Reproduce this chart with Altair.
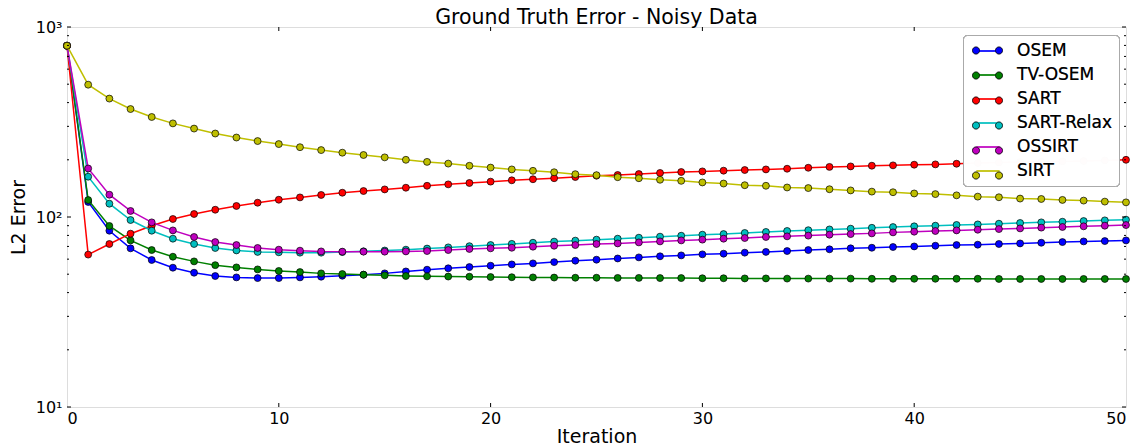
import altair as alt
import pandas as pd

# ---------------- data ----------------
iterations = list(range(51))

series_names = ["OSEM", "TV-OSEM", "SART", "SART-Relax", "OSSIRT", "SIRT"]
series_colors = ["#0000ff", "#008000", "#ff0000", "#00bfbf", "#bf00bf", "#bfbf00"]

osem = [797, 120, 84.7, 68.4, 59.4, 54.1, 50.9, 48.9, 48.1, 47.7,
        47.7, 48.1, 48.5, 49.1, 49.7, 50.5, 51.7, 52.8, 53.7, 54.5,
        55.4, 56.3, 57.0, 57.9, 58.9, 59.6, 60.5, 61.3, 62.1, 62.8,
        63.6, 64.1, 64.9, 65.5, 66.2, 67.0, 67.6, 68.4, 68.9, 69.5,
        70.0, 70.6, 71.2, 71.5, 72.1, 72.6, 73.2, 73.8, 74.4, 74.7, 75.3]

tv_osem = [797, 122.8, 89.7, 75.3, 67.0, 61.8, 58.4, 55.8, 54.3, 53.0,
           52.0, 51.3, 50.5, 50.1, 49.7, 49.3, 48.9, 48.7, 48.6, 48.5,
           48.3, 48.2, 48.1, 48.0, 47.9, 47.9, 47.8, 47.8, 47.7, 47.7,
           47.6, 47.6, 47.5, 47.5, 47.4, 47.4, 47.4, 47.4, 47.3, 47.3,
           47.3, 47.3, 47.3, 47.3, 47.2, 47.2, 47.2, 47.2, 47.2, 47.2, 47.2]

sart = [797, 63.4, 72.1, 81.7, 90.0, 97.6, 103.7, 109.2, 114.3, 118.9,
        123.3, 126.8, 130.6, 134.2, 137.0, 139.7, 142.6, 146.0, 148.5, 151.0,
        153.5, 156.0, 158.0, 160.0, 162.3, 165.0, 166.4, 168.3, 170.5, 172.5,
        173.8, 175.3, 176.7, 178.0, 179.5, 181.6, 183.5, 184.6, 186.2, 187.0,
        188.5, 189.2, 190.7, 192.3, 193.8, 194.6, 195.4, 196.2, 197.0, 198.5, 200.0]

sart_relax = [797, 163, 117.5, 96.4, 84.7, 76.9, 72.1, 68.7, 66.7, 65.5,
              65.2, 64.9, 64.9, 65.4, 66.0, 66.6, 67.3, 68.2, 69.2, 70.2,
              71.2, 72.2, 73.2, 74.2, 75.1, 76.0, 76.9, 77.8, 78.8, 79.7,
              80.7, 81.3, 82.4, 83.4, 84.4, 85.2, 86.0, 86.8, 87.7, 88.5,
              89.3, 90.0, 90.8, 91.4, 92.2, 93.0, 93.7, 94.4, 95.2, 96.0, 96.8]

ossirt = [797, 180, 131, 107.6, 93.7, 85.0, 78.5, 73.8, 71.2, 68.7,
          67.3, 66.5, 65.9, 65.7, 65.7, 65.7, 65.9, 66.2, 67.0, 67.9,
          68.4, 68.9, 69.8, 70.6, 71.2, 72.1, 72.6, 73.5, 74.4, 75.3,
          76.0, 76.9, 77.5, 78.5, 79.1, 79.8, 80.7, 81.3, 82.0, 83.0,
          83.7, 84.4, 85.0, 85.7, 86.4, 87.1, 87.9, 88.6, 89.3, 90.0, 90.7]

sirt = [797, 497, 420, 370, 336, 311, 292, 275, 262, 251,
        242, 233, 225, 218, 212, 206, 200, 195, 191, 186,
        182, 178, 175, 172, 168, 166, 162, 160, 157, 155,
        152, 150, 147, 146, 143, 142, 140, 138, 136, 135,
        133, 132, 130, 128, 127, 125, 124.4, 123, 122, 120.5, 119.4]

all_values = [osem, tv_osem, sart, sart_relax, ossirt, sirt]

x_tick_values = [0, 10, 20, 30, 40, 50]
y_major_ticks = [10, 100, 1000]
y_minor_ticks = [20, 30, 40, 50, 60, 70, 80, 90, 200, 300, 400, 500, 600, 700, 800, 900]
x_inner_ticks = [10, 20, 30, 40]

# ---------------- build table ----------------
rows = []
for name, vals in zip(series_names, all_values):
    for it, v in zip(iterations, vals):
        rows.append({"Iteration": it, "L2": v, "series": name})
df = pd.DataFrame(rows)

W, H = 1059, 380
FONT = "DejaVu Sans"

xscale = alt.Scale(domain=[0, 50], nice=False, zero=False)
yscale = alt.Scale(type="log", domain=[10, 1000], nice=False)
stroke_scale = alt.Scale(domain=series_names, range=series_colors)
fill_scale = alt.Scale(domain=series_names, range=series_colors)

# legend glyph: line with a marker at each end (path units scaled by sqrt(size)/2 = 8 px)
line_path = "M-1.4375,0L1.4375,0"
circ_path = ("M-1.875,0A0.4375,0.4375 0 1,0 -1,0A0.4375,0.4375 0 1,0 -1.875,0Z"
             "M1,0A0.4375,0.4375 0 1,0 1.875,0A0.4375,0.4375 0 1,0 1,0Z")

LX, LY = 896, 8
common_leg = dict(title=None, orient="none", legendX=LX, legendY=LY,
                  symbolSize=256, symbolOffset=9, labelFontSize=17, labelFont=FONT,
                  labelOffset=20, padding=7, rowPadding=7, labelLimit=300)

line_legend = alt.Legend(symbolType=line_path, symbolStrokeWidth=1.5,
                         symbolFillColor="transparent",
                         fillColor="rgba(255,255,255,0.5)", strokeColor="#aaaaaa",
                         cornerRadius=4, labelColor="black", **common_leg)
# second legend: only the end markers, drawn exactly over the first one
point_legend = alt.Legend(symbolType=circ_path, symbolStrokeColor="black",
                          symbolStrokeWidth=0.7, symbolOpacity=1,
                          labelExpr="' '", labelColor="transparent", **common_leg)

x_axis = alt.Axis(values=x_tick_values, ticks=False, domain=False, grid=False,
                  title="Iteration", titleFontSize=19, titleFontWeight="normal",
                  titleFont=FONT, labelFont=FONT, labelFontSize=16,
                  labelPadding=3, titlePadding=1, labelColor="black", titleColor="black")
y_axis = alt.Axis(values=y_major_ticks, ticks=False, domain=False, grid=False,
                  labelExpr="datum.value == 1000 ? '10³' : datum.value == 100 ? '10²' : '10¹'",
                  title="L2 Error", titleFontSize=19, titleFontWeight="normal",
                  titleFont=FONT, labelFont=FONT, labelFontSize=16,
                  labelPadding=5, titlePadding=7, labelColor="black", titleColor="black")

base = alt.Chart(df)
layers = []
for i, name in enumerate(series_names):
    sub = base.transform_filter(alt.datum.series == name)
    layers.append(
        sub.mark_line(strokeWidth=1.5).encode(
            x=alt.X("Iteration:Q", scale=xscale, axis=x_axis),
            y=alt.Y("L2:Q", scale=yscale, axis=y_axis),
            stroke=alt.Stroke("series:N", scale=stroke_scale, legend=line_legend),
        )
    )
    layers.append(
        sub.mark_circle(size=48, stroke="black", strokeWidth=0.7, opacity=1).encode(
            x=alt.X("Iteration:Q", scale=xscale, axis=x_axis),
            y=alt.Y("L2:Q", scale=yscale, axis=y_axis),
            fill=alt.Fill("series:N", scale=fill_scale, legend=point_legend),
        )
    )

# inward ticks on all four sides (matplotlib classic style)
ymaj_df = pd.DataFrame({"v": y_major_ticks})
ymin_df = pd.DataFrame({"v": y_minor_ticks})
xin_df = pd.DataFrame({"v": x_inner_ticks})
tick_color = "black"
for d, ln in [(ymaj_df, 4), (ymin_df, 2)]:
    layers.append(alt.Chart(d).mark_rule(color=tick_color, strokeWidth=1).encode(
        y=alt.Y("v:Q", scale=yscale, axis=y_axis), x=alt.value(0), x2=alt.value(ln)))
    layers.append(alt.Chart(d).mark_rule(color=tick_color, strokeWidth=1).encode(
        y=alt.Y("v:Q", scale=yscale, axis=y_axis), x=alt.value(W), x2=alt.value(W - ln)))
layers.append(alt.Chart(xin_df).mark_rule(color=tick_color, strokeWidth=1).encode(
    x=alt.X("v:Q", scale=xscale, axis=x_axis), y=alt.value(H), y2=alt.value(H - 4)))
layers.append(alt.Chart(xin_df).mark_rule(color=tick_color, strokeWidth=1).encode(
    x=alt.X("v:Q", scale=xscale, axis=x_axis), y=alt.value(0), y2=alt.value(4)))

chart = alt.layer(*layers).properties(
    width=W, height=H,
    title=alt.TitleParams("Ground Truth Error - Noisy Data", fontSize=20.5,
                          fontWeight="normal", font=FONT, offset=3, frame="group",
                          anchor="middle", color="black", dy=12),
    padding={"left": 67, "top": 27, "right": 13, "bottom": 39},
    autosize=alt.AutoSizeParams(type="none"),
).resolve_scale(stroke="independent", fill="independent").configure_view(
    stroke="#333333", strokeWidth=1
).configure(background="white")

chart.save("out.html", embed_options={"renderer": "svg", "actions": False})
